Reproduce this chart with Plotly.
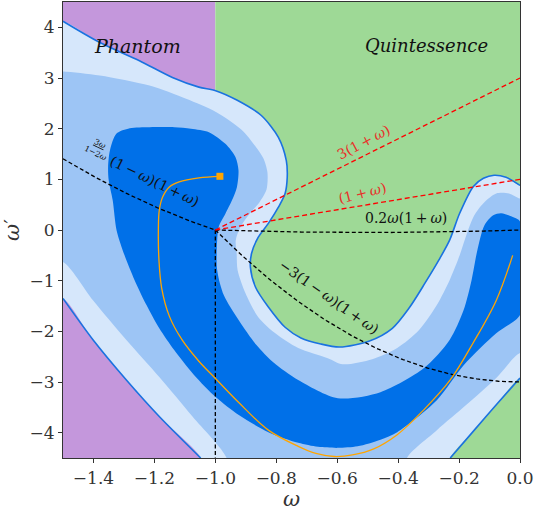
import numpy as np
import plotly.graph_objects as go

# ---- contour boundaries (omega, omega') ----
# outermost level: upper / pocket / right-bump boundary, left edge to right edge
out_up_w = [-1.5, -1.379, -1.249, -1.141, -1.054, -0.999, -0.928, -0.849, -0.793, -0.767,
            -0.764, -0.771, -0.793, -0.826, -0.859, -0.881, -0.885, -0.868, -0.826, -0.771,
            -0.719, -0.654, -0.592, -0.494, -0.419, -0.364, -0.312, -0.267, -0.231, -0.198,
            -0.153, -0.120, -0.085, -0.046, 0.0]
out_up_wp = [4.12, 3.70, 3.34, 3.01, 2.82, 2.75, 2.56, 2.26, 1.83, 1.37,
             1.04, 0.72, 0.45, 0.13, -0.14, -0.46, -0.73, -1.13, -1.52, -1.92,
             -2.13, -2.25, -2.31, -2.19, -1.94, -1.54, -1.05, -0.60, -0.20, 0.33,
             0.86, 1.02, 1.08, 1.04, 0.88]
# outermost level: lower-left boundary (left edge -> bottom)
out_ll_w = [-1.5, -1.401, -1.292, -1.184, -1.048]
out_ll_wp = [-1.35, -2.17, -2.96, -3.68, -4.5]
# outermost level: lower-right boundary (bottom -> right edge)
out_lr_w = [-0.229, -0.150, -0.075, 0.0]
out_lr_wp = [-4.5, -3.95, -3.43, -2.92]

# middle level
mid_up_w = [-1.5, -1.379, -1.216, -1.096, -0.998, -0.914, -0.868, -0.842, -0.829, -0.832,
            -0.855, -0.894, -0.920, -0.933, -0.930, -0.927, -0.901, -0.859, -0.803, -0.728,
            -0.631, -0.582, -0.485, -0.403, -0.332, -0.273, -0.231, -0.198, -0.176, -0.150,
            -0.120, -0.078, -0.036, 0.0]
mid_up_wp = [3.13, 3.05, 2.85, 2.59, 2.33, 1.98, 1.65, 1.41, 1.14, 0.80,
             0.55, 0.27, 0.03, -0.20, -0.46, -0.79, -1.25, -1.72, -2.04, -2.33,
             -2.53, -2.65, -2.55, -2.33, -1.98, -1.48, -0.99, -0.50, -0.10, 0.29,
             0.53, 0.72, 0.72, 0.62]
mid_ll_w = [-1.5, -1.401, -1.292, -1.184, -1.075, -0.963]
mid_ll_wp = [-0.63, -1.39, -2.17, -2.90, -3.68, -4.5]
mid_lr_w = [-0.371, -0.273, -0.176, -0.078, 0.0]
mid_lr_wp = [-4.5, -3.95, -3.45, -2.92, -2.43]

# innermost level: closed outline, plus the stretch that runs along the right edge
in_w = [-1.352, -1.346, -1.325, -1.281, -1.216, -1.134, -1.080, -1.021, -0.967, -0.934,
        -0.924, -0.929, -0.945, -0.967, -0.989, -0.994, -0.994, -0.972, -0.923, -0.865,
        -0.810, -0.728, -0.598, -0.458, -0.316, -0.231, -0.185, -0.159, -0.140, -0.117,
        -0.088, -0.062, -0.029, 0.0, 0.0, 0.0, 0.0, -0.078, -0.185, -0.273, -0.403, -0.458,
        -0.533, -0.598, -0.663, -0.728, -0.826, -0.923, -0.998, -1.070, -1.135, -1.184,
        -1.226, -1.265, -1.298, -1.324, -1.337, -1.350]
in_wp = [1.24, 1.57, 1.90, 2.01, 2.03, 2.03, 2.00, 1.93, 1.70, 1.44,
         1.18, 0.85, 0.59, 0.32, 0.06, -0.20, -0.79, -1.29, -1.78, -2.27,
         -2.61, -2.96, -3.32, -3.20, -2.73, -2.17, -1.58, -0.99, -0.40, 0.09,
         0.29, 0.33, 0.27, 0.17, -0.40, -1.10, -1.68, -2.04, -2.67, -3.36, -3.99, -4.14,
         -4.27, -4.30, -4.28, -4.20, -3.99, -3.65, -3.30, -2.86, -2.37, -1.94,
         -1.48, -0.99, -0.50, -0.01, 0.59, 0.98]

# trajectory (starts at the square marker)
traj_w = [-0.985, -1.054, -1.119, -1.151, -1.173, -1.184, -1.187, -1.185, -1.176, -1.151,
          -1.109, -1.054, -0.998, -0.924, -0.826, -0.728, -0.670, -0.610, -0.550, -0.480,
          -0.403, -0.316, -0.229, -0.154, -0.078, -0.024]
traj_wp = [1.06, 1.03, 0.95, 0.85, 0.65, 0.39, -0.01, -0.60, -1.15, -1.70,
           -2.17, -2.59, -2.94, -3.40, -3.95, -4.27, -4.41, -4.47, -4.44, -4.32,
           -4.04, -3.55, -2.96, -2.23, -1.39, -0.50]

X_MIN, X_MAX = -1.5, 0.0
Y_MIN, Y_MAX = -4.5, 4.5

C_PURPLE = "#c497dc"
C_GREEN = "#9ed996"
C_LIGHT = "#d6e7fb"
C_MID = "#9dc5f5"
C_DARK = "#0070e8"
C_EDGE = "#1a72e0"


def band_polygon(up_w, up_wp, lr_w, lr_wp, ll_w, ll_wp):
    """Closed outline of a contour level that touches all four plot edges.

    The stretches along the plot border are run slightly outside the axes so the
    smoothed outline never rounds off inside the visible area."""
    pad_x, pad_y = 0.05, 0.3
    xs = list(up_w) + [X_MAX + pad_x, X_MAX + pad_x] + list(lr_w[::-1]) \
        + [lr_w[0], ll_w[-1]] + list(ll_w[::-1]) + [X_MIN - pad_x, X_MIN - pad_x, up_w[0]]
    ys = list(up_wp) + [up_wp[-1], lr_wp[-1]] + list(lr_wp[::-1]) \
        + [Y_MIN - pad_y, Y_MIN - pad_y] + list(ll_wp[::-1]) + [ll_wp[0], up_wp[0], up_wp[0]]
    return xs, ys


fig = go.Figure()

# phantom / quintessence background
fig.add_shape(type="rect", x0=X_MIN, x1=-1.0, y0=Y_MIN, y1=Y_MAX, xref="x", yref="y",
              fillcolor=C_PURPLE, line_width=0, layer="below")
fig.add_shape(type="rect", x0=-1.0, x1=X_MAX, y0=Y_MIN, y1=Y_MAX, xref="x", yref="y",
              fillcolor=C_GREEN, line_width=0, layer="below")

ox, oy = band_polygon(out_up_w, out_up_wp, out_lr_w, out_lr_wp, out_ll_w, out_ll_wp)
fig.add_trace(go.Scatter(x=ox, y=oy, fill="toself", fillcolor=C_LIGHT, mode="lines",
                         line=dict(width=0, shape="spline", smoothing=0.8),
                         hoverinfo="skip"))
mx, my = band_polygon(mid_up_w, mid_up_wp, mid_lr_w, mid_lr_wp, mid_ll_w, mid_ll_wp)
fig.add_trace(go.Scatter(x=mx, y=my, fill="toself", fillcolor=C_MID, mode="lines",
                         line=dict(width=0, shape="spline", smoothing=0.8),
                         hoverinfo="skip"))
fig.add_trace(go.Scatter(x=in_w + [in_w[0]], y=in_wp + [in_wp[0]], fill="toself",
                         fillcolor=C_DARK, mode="lines",
                         line=dict(width=0, shape="spline", smoothing=0.8),
                         hoverinfo="skip"))

# outer contour edge
for xs, ys in [(out_up_w, out_up_wp), (out_ll_w, out_ll_wp), (out_lr_w, out_lr_wp)]:
    fig.add_trace(go.Scatter(x=xs, y=ys, mode="lines",
                             line=dict(color=C_EDGE, width=1.6, shape="spline", smoothing=0.8),
                             hoverinfo="skip"))

# theoretical curves
w_ph = np.linspace(-1.5, -1.0, 100)
w_q = np.linspace(-1.0, 0.0, 100)
dash_k = "4px,2.5px"
fig.add_trace(go.Scatter(x=w_ph, y=3 * w_ph / (1 - 2 * w_ph) * (1 - w_ph) * (1 + w_ph),
                         mode="lines", line=dict(color="black", width=1.3, dash=dash_k)))
fig.add_trace(go.Scatter(x=w_q, y=0.2 * w_q * (1 + w_q), mode="lines",
                         line=dict(color="black", width=1.3, dash=dash_k)))
fig.add_trace(go.Scatter(x=w_q, y=-3 * (1 - w_q) * (1 + w_q), mode="lines",
                         line=dict(color="black", width=1.3, dash=dash_k)))
fig.add_trace(go.Scatter(x=[-1.0, -1.0], y=[0.0, Y_MIN], mode="lines",
                         line=dict(color="black", width=1.3, dash=dash_k)))
fig.add_trace(go.Scatter(x=w_q, y=3 * (1 + w_q), mode="lines",
                         line=dict(color="red", width=1.3, dash="5px,3px")))
fig.add_trace(go.Scatter(x=w_q, y=1 + w_q, mode="lines",
                         line=dict(color="red", width=1.3, dash="5px,3px")))

# trajectory with its starting point
fig.add_trace(go.Scatter(x=traj_w, y=traj_wp, mode="lines",
                         line=dict(color="orange", width=1.3, shape="spline", smoothing=1.0)))
fig.add_trace(go.Scatter(x=[traj_w[0]], y=[traj_wp[0]], mode="markers",
                         marker=dict(symbol="square", color="orange", size=7)))

SERIF = "DejaVu Serif"
TS = "\u2009"  # thin space around binary operators
notes = [
    dict(x=-1.257, y=3.64, text="<i>Phantom</i>", textangle=0, color="#111", size=19),
    dict(x=-0.306, y=3.64, text="<i>Quintessence</i>", textangle=0, color="#111", size=18),
    dict(x=-0.513, y=1.73, text=f"3(1{TS}+{TS}<i>ω</i>)", textangle=-28, color="#e8302a",
         size=14),
    dict(x=-0.517, y=0.74, text=f"(1{TS}+{TS}<i>ω</i>)", textangle=-14, color="#e8302a",
         size=14),
    dict(x=-0.373, y=0.24, text=f"0.2<i>ω</i>(1{TS}+{TS}<i>ω</i>)", textangle=0, color="#111",
         size=14),
    dict(x=-0.627, y=-1.33, text=f"−3(1{TS}−{TS}<i>ω</i>)(1{TS}+{TS}<i>ω</i>)", textangle=35,
         color="#111", size=14),
    dict(x=-1.385, y=1.61, text="<u>3<i>ω</i></u><br>1−2<i>ω</i>", textangle=26,
         color="#111", size=8),
    dict(x=-1.200, y=0.96, text=f"(1{TS}−{TS}<i>ω</i>)(1{TS}+{TS}<i>ω</i>)", textangle=26,
         color="#111", size=14),
]
for n in notes:
    fig.add_annotation(x=n["x"], y=n["y"], xref="x", yref="y", text=n["text"],
                       showarrow=False, textangle=n["textangle"],
                       font=dict(family=SERIF, size=n["size"], color=n["color"]))

axis_common = dict(showline=True, linecolor="#333", linewidth=1.2, mirror=True,
                   ticks="outside", ticklen=4, tickcolor="#333", showgrid=False,
                   zeroline=False, ticklabeloverflow="allow",
                   tickfont=dict(family=SERIF, size=17, color="#333"))
fig.update_xaxes(range=[X_MIN, X_MAX], tickvals=[-1.4, -1.2, -1.0, -0.8, -0.6, -0.4, -0.2, 0.0],
                 tickformat=".1f",
                 title=dict(text="<i>ω</i>", font=dict(family=SERIF, size=21, color="#333"),
                            standoff=2),
                 **axis_common)
fig.update_yaxes(range=[Y_MIN, Y_MAX], tickvals=[-4, -3, -2, -1, 0, 1, 2, 3, 4],
                 title=dict(text="<i>ω</i>′", font=dict(family=SERIF, size=21, color="#333"),
                            standoff=6),
                 **axis_common)
fig.update_layout(width=535, height=514, margin=dict(l=63, r=11, t=1, b=56),
                  paper_bgcolor="white", plot_bgcolor="white", showlegend=False)

fig.write_html("out.html")
